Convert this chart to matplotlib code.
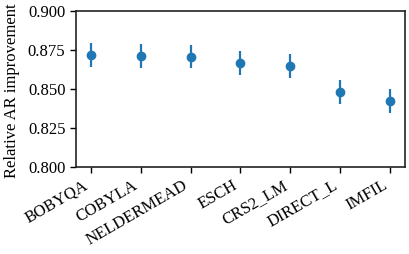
import numpy as np
import matplotlib
matplotlib.use("Agg")
import matplotlib.pyplot as plt

# data
methods = ["BOBYQA", "COBYLA", "NELDERMEAD", "ESCH", "CRS2_LM", "DIRECT_L", "IMFIL"]
means = [0.8718, 0.8712, 0.8707, 0.8665, 0.8645, 0.8482, 0.8424]
lower = [0.8643, 0.8635, 0.8633, 0.8588, 0.8569, 0.8404, 0.8348]
upper = [0.8793, 0.8786, 0.8782, 0.8740, 0.8722, 0.8558, 0.8498]

plt.rcParams["font.family"] = ["Liberation Serif", "DejaVu Serif"]
plt.rcParams["font.size"] = 12

means = np.array(means)
yerr = np.vstack([means - np.array(lower), np.array(upper) - means])
x = np.arange(len(methods))

fig = plt.figure(figsize=(4.1, 2.54), dpi=100)
ax = fig.add_axes([0.185, 0.343, 0.803, 0.614])

ax.errorbar(x, means, yerr=yerr, fmt="o", color="#1f77b4", ms=6,
            elinewidth=1.6, capsize=0)

ax.set_ylim(0.8, 0.9)
ax.set_yticks([0.8, 0.825, 0.85, 0.875, 0.9])
ax.set_yticklabels(["0.800", "0.825", "0.850", "0.875", "0.900"])
ax.set_xticks(x)
ax.set_xticklabels(methods, rotation=30, ha="right")
ax.set_ylabel("Relative AR improvement")
ax.yaxis.set_label_coords(-0.169, 0.49)
ax.tick_params(length=4, width=1)
for s in ax.spines.values():
    s.set_linewidth(1.2)
    s.set_color("#222222")

fig.savefig("out.png", dpi=100)
